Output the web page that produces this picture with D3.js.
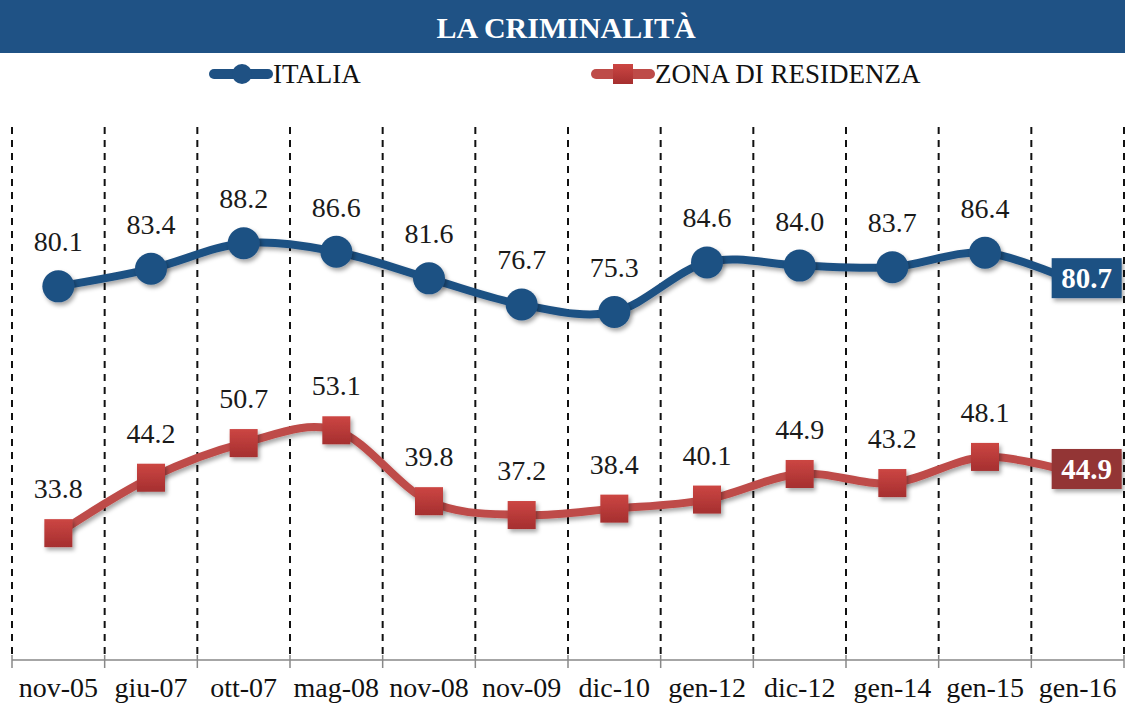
<!DOCTYPE html>
<html>
<head>
<meta charset="utf-8">
<script src="https://cdn.jsdelivr.net/npm/d3@7"></script>
<style>
  body { margin: 0; background: #fff; }
  svg { display: block; }
  svg text { font-family: "Liberation Serif", "Times New Roman", serif; }
</style>
</head>
<body>
<svg id="chart" width="1125" height="706"></svg>
<script>
// dati
const categories = ["nov-05", "giu-07", "ott-07", "mag-08", "nov-08", "nov-09",
                    "dic-10", "gen-12", "dic-12", "gen-14", "gen-15", "gen-16"];
const italia = [80.1, 83.4, 88.2, 86.6, 81.6, 76.7, 75.3, 84.6, 84.0, 83.7, 86.4, 80.7];
const zona = [33.8, 44.2, 50.7, 53.1, 39.8, 37.2, 38.4, 40.1, 44.9, 43.2, 48.1, 44.9];
const seriesNames = ["ITALIA", "ZONA DI RESIDENZA"];

const blue = "#1f5183";
const red = "#be4b48";

const svg = d3.select("#chart");
const W = 1125;

// scale
const x = d3.scaleBand().domain(categories).range([12, 1124]);
const y = d3.scaleLinear().domain([10, 110]).range([660, 127]);
const cx = d => x(d) + x.bandwidth() / 2;

// filtri / gradienti
const defs = svg.append("defs");
const sh = defs.append("filter").attr("id", "shadow")
  .attr("x", "-30%").attr("y", "-30%").attr("width", "170%").attr("height", "170%");
sh.append("feDropShadow").attr("dx", 2).attr("dy", 3).attr("stdDeviation", 2)
  .attr("flood-color", "#000").attr("flood-opacity", 0.35);

const gr = defs.append("linearGradient").attr("id", "redsq")
  .attr("x1", 0).attr("y1", 0).attr("x2", 0).attr("y2", 1);
gr.append("stop").attr("offset", "0%").attr("stop-color", "#cc4643");
gr.append("stop").attr("offset", "100%").attr("stop-color", "#a52f2f");

// titolo
svg.append("rect").attr("x", 0).attr("y", 0).attr("width", W).attr("height", 53)
  .attr("fill", "#1f5285");
svg.append("text").attr("x", 566).attr("y", 38)
  .attr("text-anchor", "middle").attr("fill", "#fff")
  .attr("font-size", 30).attr("font-weight", "bold")
  .text("LA CRIMINALITÀ");

// legenda
const leg = svg.append("g");
const legItems = [
  { name: seriesNames[0], color: blue, x0: 210, shape: "circle" },
  { name: seriesNames[1], color: red, x0: 592, shape: "square" }
];
legItems.forEach(l => {
  leg.append("line").attr("x1", l.x0 + 4).attr("x2", l.x0 + 58)
    .attr("y1", 74).attr("y2", 74)
    .attr("stroke", l.color).attr("stroke-width", 10).attr("stroke-linecap", "round");
  if (l.shape === "circle") {
    leg.append("circle").attr("cx", l.x0 + 32).attr("cy", 74).attr("r", 10).attr("fill", l.color);
  } else {
    leg.append("rect").attr("x", l.x0 + 21).attr("y", 64).attr("width", 20).attr("height", 20)
      .attr("fill", "url(#redsq)");
  }
  leg.append("text").attr("x", l.x0 + 63).attr("y", 83)
    .attr("font-size", 27).attr("fill", "#111").text(l.name);
});

// griglia verticale tratteggiata
const bounds = categories.map(c => x(c)).concat([x.range()[1]]);
svg.append("g").selectAll("line").data(bounds).join("line")
  .attr("x1", d => d).attr("x2", d => d)
  .attr("y1", y(110)).attr("y2", y(10))
  .attr("stroke", "#111").attr("stroke-width", 2)
  .attr("stroke-dasharray", "7,6");

// asse x
const axis = svg.append("g");
axis.append("line").attr("x1", x.range()[0]).attr("x2", x.range()[1])
  .attr("y1", y(10)).attr("y2", y(10))
  .attr("stroke", "#888").attr("stroke-width", 1.5);
axis.selectAll(".tk").data(bounds).join("line").attr("class", "tk")
  .attr("x1", d => d).attr("x2", d => d)
  .attr("y1", y(10) - 5).attr("y2", y(10) + 8)
  .attr("stroke", "#888").attr("stroke-width", 1.5);

const xAxis = svg.append("g")
  .attr("transform", `translate(0,${y(10)})`)
  .call(d3.axisBottom(x).tickSize(0).tickPadding(17));
xAxis.select(".domain").remove();
xAxis.selectAll("text")
  .attr("font-family", "Liberation Serif, serif")
  .attr("font-size", 28).attr("fill", "#111");

// linee
const line = d3.line()
  .x((d, i) => cx(categories[i]))
  .y(d => y(d))
  .curve(d3.curveCatmullRom.alpha(0));

function drawSeries(values, color, marker, boxColor) {
  const g = svg.append("g");
  g.append("path").datum(values)
    .attr("d", line).attr("fill", "none")
    .attr("stroke", color).attr("stroke-width", 8)
    .attr("filter", "url(#shadow)");

  const pts = values.slice(0, -1);
  if (marker === "circle") {
    g.selectAll("circle").data(pts).join("circle")
      .attr("cx", (d, i) => cx(categories[i])).attr("cy", d => y(d))
      .attr("r", 16).attr("fill", blue)
      .attr("filter", "url(#shadow)");
  } else {
    g.selectAll("rect.m").data(pts).join("rect").attr("class", "m")
      .attr("x", (d, i) => cx(categories[i]) - 14).attr("y", d => y(d) - 14)
      .attr("width", 28).attr("height", 28)
      .attr("fill", "url(#redsq)")
      .attr("filter", "url(#shadow)");
  }

  // etichette
  g.selectAll("text.lab").data(pts).join("text").attr("class", "lab")
    .attr("x", (d, i) => cx(categories[i])).attr("y", d => y(d) - 35)
    .attr("text-anchor", "middle").attr("font-size", 28).attr("fill", "#1a1a1a")
    .text(d => d.toFixed(1));

  // ultimo valore in riquadro
  const last = values[values.length - 1];
  const lx = cx(categories[categories.length - 1]) + 9;
  const ly = y(last) - 5;
  g.append("rect").attr("x", lx - 35).attr("y", ly - 20)
    .attr("width", 70).attr("height", 40)
    .attr("fill", boxColor).attr("filter", "url(#shadow)");
  g.append("text").attr("x", lx).attr("y", ly + 10)
    .attr("text-anchor", "middle").attr("font-size", 29).attr("font-weight", "bold")
    .attr("fill", "#fff").text(last.toFixed(1));
}

drawSeries(italia, blue, "circle", blue);
drawSeries(zona, red, "square", "#933534");
</script>
</body>
</html>
